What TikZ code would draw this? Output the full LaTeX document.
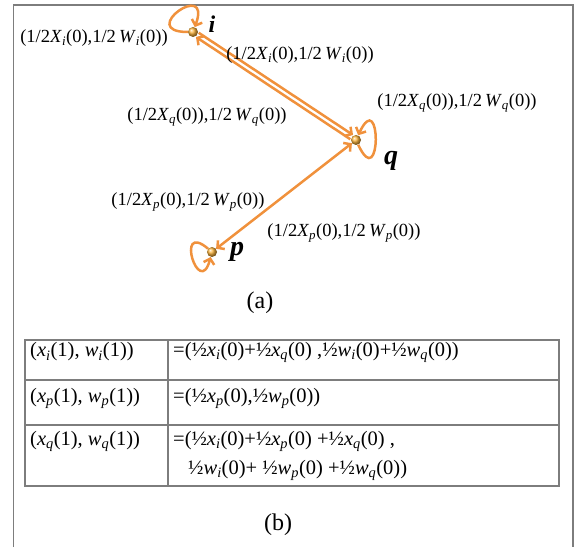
\documentclass[tikz,border=0pt]{standalone}
\usepackage{fontspec}
\setmainfont{Liberation Serif}
\usepackage{tikz}
\usetikzlibrary{arrows.meta, calc}
\definecolor{arrorange}{RGB}{240,145,60}
\definecolor{dotorange}{RGB}{252,180,60}
\definecolor{framegray}{RGB}{125,125,125}
\newcommand{\sbs}[1]{\textsubscript{\textit{#1}}}

\begin{document}
\begin{tikzpicture}[x=1pt, y=1pt,
    >={Straight Barb[length=5pt, width=11pt]},
    dot/.style={circle, inner sep=0pt, minimum size=10pt, ball color=dotorange},
    arr/.style={->, line width=2.5pt, arrorange},
    lbl/.style={font=\fontsize{18.5}{22}\selectfont, inner sep=0pt},
    cell/.style={font=\fontsize{20.5}{24}\selectfont, inner sep=0pt, anchor=west},
    vname/.style={font=\fontsize{28}{32}\selectfont\bfseries\itshape, inner sep=0pt},
    capt/.style={font=\fontsize{24}{28}\selectfont, inner sep=0pt},
    rule/.style={framegray, line width=1.4pt},
]
\useasboundingbox (0,0) rectangle (575,547);
\draw[rule] (13.5,0) -- (13.5,542) -- (573,542) -- (573,0);

% graph (a)
\node[dot] (i) at (193,515) {};
\node[dot] (q) at (356,407) {};
\node[dot] (p) at (212,295) {};
\node[vname, font=\fontsize{24}{28}\selectfont\bfseries\itshape] (ilab) at (212,523) {i};
\node[vname] (qlab) at (391,386) {q};
\node[vname] (plab) at (237,295) {p};

\draw[arr, transform canvas={shift={(56.5:2.5pt)}}] (i) -- (q);
\draw[arr, transform canvas={shift={(236.5:2.5pt)}}] (q) -- (i);
\draw[arr, <->] (p) -- (q);
\draw[arr] (i) to[out=180, in=70, min distance=52pt] (i);
\draw[arr] (q) to[out=-65, in=65, min distance=55pt] (q);
\draw[arr] (p) to[out=140, in=255, min distance=44pt] (p);

\node[lbl] (il) at (94,509) {(1/2\textit{X}\sbs{i}(0),1/2\,\textit{W}\sbs{i}(0))};
\node[lbl] (ir) at (300,492) {(1/2\textit{X}\sbs{i}(0),1/2\,\textit{W}\sbs{i}(0))};
\node[lbl] (ql) at (207,430) {(1/2\textit{X}\sbs{q}(0)),1/2\,\textit{W}\sbs{q}(0))};
\node[lbl] (qr) at (457,444) {(1/2\textit{X}\sbs{q}(0)),1/2\,\textit{W}\sbs{q}(0))};
\node[lbl] (pl) at (188,345) {(1/2\textit{X}\sbs{p}(0),1/2\,\textit{W}\sbs{p}(0))};
\node[lbl] (pr) at (344,314) {(1/2\textit{X}\sbs{p}(0),1/2\,\textit{W}\sbs{p}(0))};
\node[capt] (capa) at (260,244) {(a)};

% table (b)
\draw[rule] (25,61) rectangle (559,207);
\draw[rule] (25,167) -- (559,167);
\draw[rule] (25,122) -- (559,122);
\draw[rule] (168,61) -- (168,207);

\node[cell] (xi) at (30,195) {(\textit{x}\sbs{i}(1), \textit{w}\sbs{i}(1))};
\node[cell] (xp) at (30,149) {(\textit{x}\sbs{p}(1), \textit{w}\sbs{p}(1))};
\node[cell] (xq) at (30,106) {(\textit{x}\sbs{q}(1), \textit{w}\sbs{q}(1))};
\node[cell] (vi) at (173,195) {=(½\textit{x}\sbs{i}(0)+½\textit{x}\sbs{q}(0) ,½\textit{w}\sbs{i}(0)+½\textit{w}\sbs{q}(0))};
\node[cell] (vp) at (173,149) {=(½\textit{x}\sbs{p}(0),½\textit{w}\sbs{p}(0))};
\node[cell] (vq) at (173,106) {=(½\textit{x}\sbs{i}(0)+½\textit{x}\sbs{p}(0) +½\textit{x}\sbs{q}(0) ,};
\node[cell] (vqw) at (188,77) {½\textit{w}\sbs{i}(0)+ ½\textit{w}\sbs{p}(0) +½\textit{w}\sbs{q}(0))};
\node[capt] (capb) at (278,22) {(b)};
\end{tikzpicture}
\end{document}
